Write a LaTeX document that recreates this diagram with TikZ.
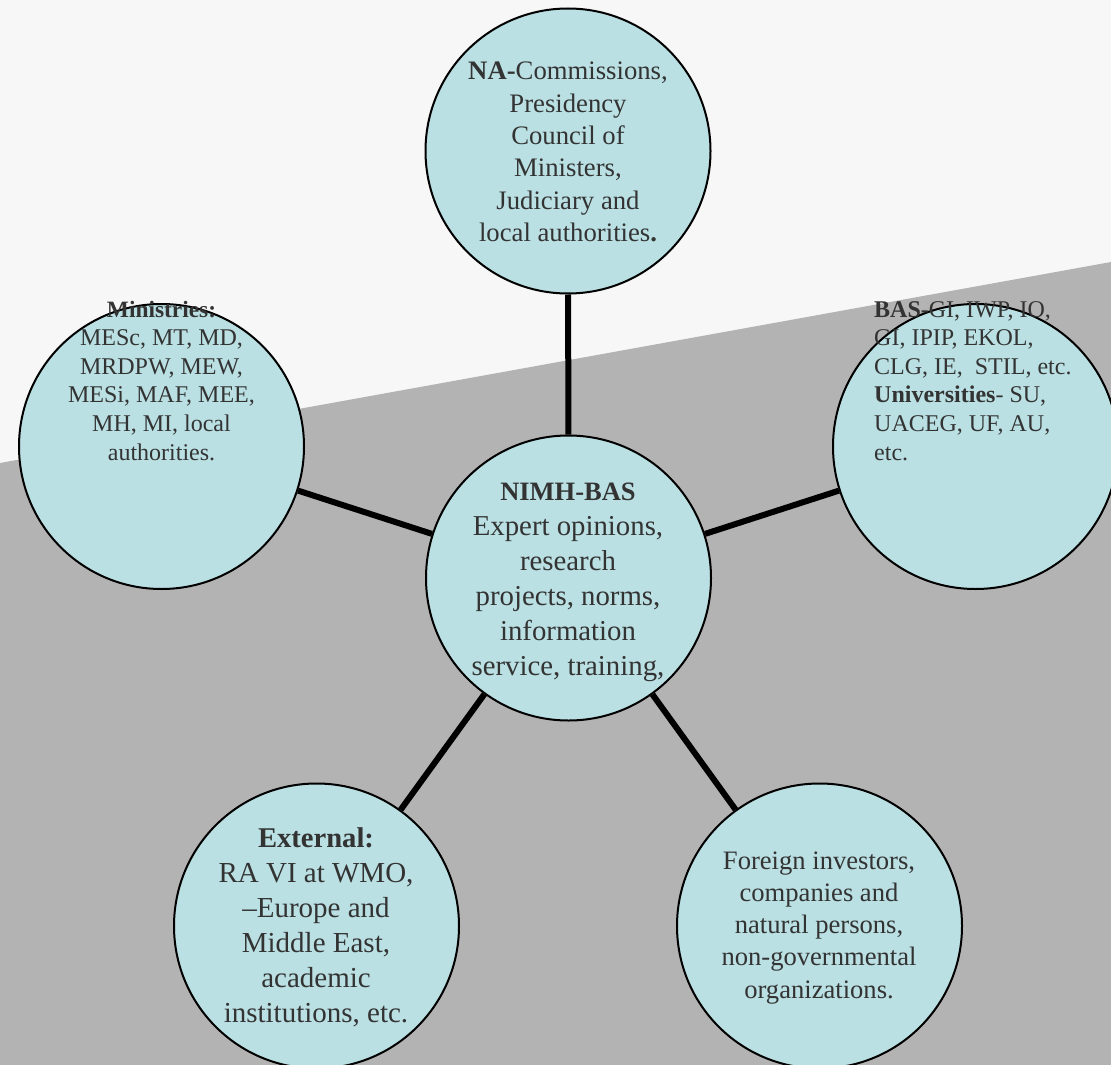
\documentclass[tikz,border=0pt]{standalone}
\usepackage{fontspec}
\setmainfont{Liberation Serif}
\definecolor{bgtop}{HTML}{F7F7F7}
\definecolor{bggray}{HTML}{B3B3B3}
\definecolor{circfill}{HTML}{BAE0E3}
\definecolor{txtcol}{HTML}{333333}
\tikzset{
  circ/.style={circle, draw=black, line width=2pt, fill=circfill, minimum size=285pt, inner sep=0pt},
  link/.style={line width=6pt, black},
  txt/.style={inner sep=0pt, text=txtcol},
}
\begin{document}
\begin{tikzpicture}[x=1pt,y=-1pt]
\useasboundingbox (0,0) rectangle (1111,1065);
\fill[bgtop] (0,0) rectangle (1111,1065);
\fill[bggray] (0,463) -- (1111,262) -- (1111,1065) -- (0,1065) -- cycle;

\node[circ] (na)   at (568,151) {};
\node[circ] (nimh) at (568.5,578) {};
\node[circ] (min)  at (161.5,446.5) {};
\node[circ] (bas)  at (975.5,446.5) {};
\node[circ] (ext)  at (316.5,926) {};
\node[circ] (for)  at (819.5,926) {};

\draw[link] (nimh) -- (na);
\draw[link] (nimh) -- (min);
\draw[link] (nimh) -- (bas);
\draw[link] (nimh) -- (ext);
\draw[link] (nimh) -- (for);

\node[txt, anchor=base] (tna) at (568,80) {\fontsize{26.7}{32.3}\selectfont\begin{tabular}[t]{@{}c@{}}
\textbf{NA-}Commissions,\\ Presidency\\ Council of\\ Ministers,\\ Judiciary and\\ local authorities\textbf{.}\end{tabular}};

\node[txt, anchor=base] (tnimh) at (568,500) {\fontsize{28.8}{35.1}\selectfont\begin{tabular}[t]{@{}c@{}}
{\fontsize{26.5}{35.1}\selectfont\textbf{NIMH-BAS}}\\ Expert opinions,\\ research\\ projects, norms,\\ information\\ service, training,\end{tabular}};

\node[txt, anchor=base] (tmin) at (161.5,317) {\fontsize{24}{28.6}\selectfont\begin{tabular}[t]{@{}c@{}}
{\fontsize{23.4}{28.6}\selectfont\textbf{Ministries:}}\\ MESc, MT, MD,\\ MRDPW, MEW,\\ MESi, MAF, MEE,\\ MH, MI, local\\ authorities.\end{tabular}};

\node[txt, anchor=base west] (tbas) at (874,317) {\fontsize{24}{28.6}\selectfont\begin{tabular}[t]{@{}l@{}}
\textbf{BAS-}GI, IWP, IO,\\ GI, IPIP, EKOL,\\ CLG, IE,\ \ STIL, etc.\\ \textbf{Universities}- SU,\\ UACEG, UF, AU,\\ etc.\end{tabular}};

\node[txt, anchor=base] (text) at (316,847.3) {\fontsize{29}{35}\selectfont\begin{tabular}[t]{@{}c@{}}
{\fontsize{28.6}{35}\selectfont\textbf{External:}}\\ RA VI at WMO,\\ --Europe and\\ Middle East,\\ academic\\ institutions, etc.\end{tabular}};

\node[txt, anchor=base] (tfor) at (819,869) {\fontsize{26.6}{32.25}\selectfont\begin{tabular}[t]{@{}c@{}}
Foreign investors,\\ companies and\\ natural persons,\\ non-governmental\\ organizations.\end{tabular}};
\end{tikzpicture}
\end{document}
